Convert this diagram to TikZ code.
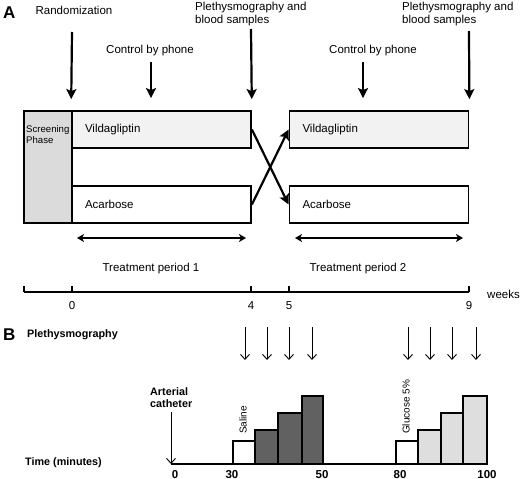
\documentclass[tikz,border=0pt]{standalone}
\usepackage{fontspec}
\setmainfont{Liberation Sans}
\usetikzlibrary{arrows.meta,positioning,calc}

\definecolor{screengray}{gray}{0.86}
\definecolor{vildgray}{gray}{0.95}
\definecolor{salinegray}{gray}{0.38}
\definecolor{glucgray}{gray}{0.87}

\begin{document}
\begin{tikzpicture}[x=1pt,y=-1pt,
    txt/.style={font=\fontsize{11.5}{13.5}\selectfont,inner sep=0pt},
    btxt/.style={font=\bfseries\fontsize{10.8}{12}\selectfont,inner sep=0pt},
    paneltxt/.style={font=\bfseries\fontsize{17}{17}\selectfont,inner sep=0pt,anchor=base west},
    armbox/.style={draw,line width=1.8pt,minimum width=179pt,minimum height=37pt,
      text width=153pt,inner xsep=13pt,align=left,font=\fontsize{11.5}{13.5}\selectfont},
    bigarrow/.style={line width=2.2pt,-{Stealth[length=10pt,width=10pt,inset=2pt]}},
    bigdrop/.style={bigarrow,shorten >=11pt},
    thinarrow/.style={line width=0.9pt,-{Straight Barb[length=5pt,width=9pt]}},
    spanarrow/.style={line width=1.6pt,{Stealth[length=7pt,width=8pt,inset=2pt]}-{Stealth[length=7pt,width=8pt,inset=2pt]}},
    bar/.style={draw,line width=1.8pt}]
  \useasboundingbox (0,0) rectangle (520,479);

  % Panel A: crossover design
  \node[paneltxt] (pA) at (3,18) {A};

  \node[draw,line width=1.8pt,fill=screengray,minimum width=48pt,minimum height=112pt,inner sep=0pt] (screen) at (48,167) {};
  \node[armbox,fill=vildgray] (vil1) at (161.5,129.5) {Vildagliptin};
  \node[armbox] (aca1) at (161.5,204.5) {Acarbose};
  \node[armbox,fill=vildgray] (vil2) at (379,129.5) {Vildagliptin};
  \node[armbox] (aca2) at (379,204.5) {Acarbose};
  \node[anchor=north west,align=left,inner sep=0pt,font=\fontsize{9.6}{11.5}\selectfont] (screentxt) at (26,125) {Screening\\Phase};

  % events above the arms
  \node[txt,anchor=base] (rand) at (74,15) {Randomization};
  \node[txt,anchor=base] (ctrl1) at (150,53) {Control by phone};
  \node[txt,anchor=north west,align=left] (pleth1) at (195,1.5) {Plethysmography and\\blood samples};
  \node[txt,anchor=base] (ctrl2) at (373,53) {Control by phone};
  \node[txt,anchor=north west,align=left] (pleth2) at (402,1.5) {Plethysmography and\\blood samples};

  \coordinate (r0) at (72,32);
  \coordinate (c1) at (151,62);
  \coordinate (p1) at (251,29);
  \coordinate (c2) at (363,62);
  \coordinate (p2) at (469,31);
  \draw[bigdrop] (r0) -- (vil1.north west);
  \draw[bigdrop,shorten >=12pt] (c1) -- (c1 |- vil1.north);
  \draw[bigdrop] (p1) -- (vil1.north east);
  \draw[bigdrop,shorten >=12pt] (c2) -- (c2 |- vil2.north);
  \draw[bigdrop] (p2) -- (vil2.north east);

  % crossing over
  \draw[bigarrow] (vil1.east) -- (aca2.west);
  \draw[bigarrow] (aca1.east) -- (vil2.west);

  % treatment periods
  \coordinate (s1a) at (77,238);
  \coordinate (s1b) at (246,238);
  \coordinate (s2a) at (295,238);
  \coordinate (s2b) at (463,238);
  \draw[spanarrow] (s1a) -- (s1b);
  \draw[spanarrow] (s2a) -- (s2b);
  \node[txt,anchor=base] (tp1) at (151,271) {Treatment period 1};
  \node[txt,anchor=base] (tp2) at (358,271) {Treatment period 2};

  % weeks axis
  \coordinate (wkstart) at (24,292);
  \coordinate (wkend) at (469,292);
  \draw[line width=1.8pt] (wkstart) -- (wkend);
  \foreach \x in {24,72,251,289,469}
    \draw[line width=1.3pt] (\x,292) -- (\x,286);
  \foreach \x/\w in {72/0,251/4,289/5,469/9}
    \node[txt,anchor=base] (wk\w) at (\x,309) {\w};
  \node[txt,anchor=base west] (weeks) at (487,298) {weeks};

  % Panel B: study day
  \node[paneltxt] (pB) at (3,340) {B};
  \node[btxt,anchor=base west] (plethB) at (27,337) {Plethysmography};
  \foreach \x [count=\i] in {245,267,289,312,408,430,452,476} {
    \coordinate (m\i) at (\x,327);
    \coordinate (n\i) at (\x,360);
    \draw[thinarrow] (m\i) -- (n\i);
  }

  \node[btxt,anchor=north west,align=left] (cath) at (150,387) {Arterial\\catheter};
  \coordinate (cath0) at (171,412);
  \coordinate (t0) at (171,464);
  \coordinate (t100) at (487,464);
  \draw[thinarrow] (cath0) -- (t0);
  \node[btxt,anchor=base west] (timelab) at (25,465) {Time (minutes)};

  \draw[line width=1.8pt] (t0) -- (t100);
  % saline infusion steps
  \draw[bar,fill=white] (233,464) rectangle (255,441);
  \foreach \a/\b/\h in {255/278/430,278/302/413,302/323/396}
    \draw[bar,fill=salinegray] (\a,464) rectangle (\b,\h);
  % glucose infusion steps
  \draw[bar,fill=white] (396,464) rectangle (418,441);
  \foreach \a/\b/\h in {418/441/430,441/463/413,463/487/396}
    \draw[bar,fill=glucgray] (\a,464) rectangle (\b,\h);

  \node[rotate=90,inner sep=0pt,font=\fontsize{10}{12}\selectfont] (saline) at (243,420) {Saline};
  \node[rotate=90,inner sep=0pt,font=\fontsize{10}{12}\selectfont] (gluc) at (406,407) {Glucose 5\%};

  \foreach \x/\t in {175/0,232/30,322/50,400/80,487/100}
    \node[btxt,font=\bfseries\fontsize{11.5}{13}\selectfont,anchor=base] (min\t) at (\x,478) {\t};
\end{tikzpicture}
\end{document}
